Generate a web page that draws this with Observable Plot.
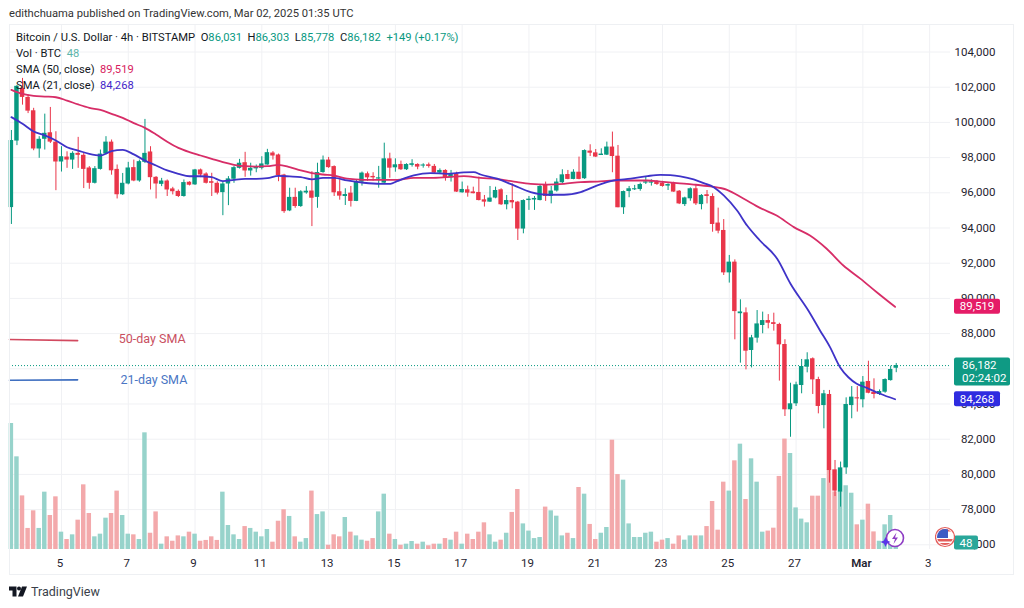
<!DOCTYPE html>
<html>
<head>
<meta charset="utf-8">
<script src="https://cdn.jsdelivr.net/npm/d3@7"></script>
<script src="https://cdn.jsdelivr.net/npm/@observablehq/plot@0.6"></script>
<style>
html,body{margin:0;padding:0;background:#fff;width:1024px;height:608px;overflow:hidden}
#wrap{position:relative;width:1024px;height:608px;font-family:Roboto,sans-serif;color:#131722}
.t{position:absolute;white-space:nowrap;font-size:11.2px;line-height:14px}
.g{color:#089981}
#frame{position:absolute;left:9px;top:24px;width:1005px;height:551px;border:1px solid #eef0f3;box-sizing:border-box;pointer-events:none}
.ic{position:absolute}
</style>
</head>
<body>
<div id="wrap">
<div id="chart"></div>
<div id="frame"></div>
<div class="t" style="left:9px;top:7px;color:#333">edithchuama published on TradingView.com, Mar 02, 2025 01:35 UTC</div>
<div class="t" style="left:16px;top:31px;">Bitcoin / U.S. Dollar · 4h · BITSTAMP &nbsp;O<span class="g">86,031</span> &nbsp;H<span class="g">86,303</span> &nbsp;L<span class="g">85,778</span> &nbsp;C<span class="g">86,182</span> &nbsp;<span class="g">+149 (+0.17%)</span></div>
<div class="t" style="left:16px;top:47px;">Vol · BTC &nbsp;<span style="color:#5db5aa">48</span></div>
<div class="t" style="left:16px;top:63px;">SMA (50, close) &nbsp;<span style="color:#d81b60">89,519</span></div>
<div class="t" style="left:16px;top:79px;">SMA (21, close) &nbsp;<span style="color:#4527c9">84,268</span></div>
<svg class="ic" style="left:9px;top:586px" width="18" height="11" viewBox="0 0 36 20"><path fill="#131722" d="M0 0h15v20H7V8H0zM20 0a4 4 0 1 1 0 8 4 4 0 0 1 0-8zM26 0h10l-8 20H18z"/></svg>
<div class="t" style="left:31px;top:585px;font-size:12.5px;color:#3a3f4a">TradingView</div>
<svg class="ic" style="left:880px;top:526px" width="28" height="24" viewBox="0 0 28 24"><circle cx="15" cy="12" r="8.5" fill="#fff" stroke="#8e3cc4" stroke-width="1.6"/><path d="M16.5 6.5l-4.5 6.5h3l-1.5 5 4.5-6.5h-3z" fill="#8e3cc4"/><path d="M5.5 11l1.6 3.4 3.4 1.6-3.4 1.6-1.6 3.4-1.6-3.4L.5 16l3.4-1.6z" fill="#5a35e8"/></svg>
<svg class="ic" style="left:935px;top:526px" width="20" height="22" viewBox="0 0 20 22"><defs><clipPath id="c"><circle cx="10" cy="11" r="8"/></clipPath></defs><circle cx="10" cy="11" r="9.5" fill="#fff" stroke="#e35d5b" stroke-width="1.2"/><g clip-path="url(#c)"><rect x="0" y="3" width="20" height="16" fill="#fff"/><rect x="0" y="13" width="20" height="2.5" fill="#e35d5b"/><rect x="0" y="17" width="20" height="2.5" fill="#e35d5b"/><rect x="0" y="3" width="20" height="2.5" fill="#e35d5b"/><rect x="2" y="3" width="11" height="9" fill="#3d5bc4"/></g></svg>
</div>
<script>
const opens=[95160,98940,101930,101420,100660,98490,99040,99410,98880,97750,98030,97860,98240,98130,97410,96540,97330,98200,98880,97330,95890,96500,97430,96670,97730,98320,96880,96480,96670,96220,96080,95790,96600,96450,97300,97070,96630,96540,96010,96500,96770,97390,97710,97240,97390,97390,97580,98260,98150,97010,94970,95740,95220,96020,96100,95740,97150,97860,97490,96060,
95790,95980,95510,96610,97080,96930,96780,96550,97930,97420,97610,97310,97590,97610,97550,97560,97500,97120,97270,96850,97080,96000,96170,96020,96020,95600,95470,95700,96170,95320,95560,95470,93940,95560,95620,95560,96420,95790,96100,96570,97040,96760,97170,96800,98370,98270,98150,98140,98600,98080,95150,96070,96170,96190,96550,96580,96620,96550,96380,96550,96090,95330,95660,96230,95330,95860,95790,94280,93860,91450,92060,89160,89180,87040,87740,88460,88740,88590,88520,87380,83670,84010,85050,86090,86570,85390,83910,84540,80260,78990,80370,83910,84350,84240,85280,84670,84540,84670,85330,86031];
const highs=[99540,102100,102500,101550,100800,99190,100470,100850,99470,98620,98330,98330,99150,98280,97490,97490,98430,99190,99000,97580,97100,97730,97860,97860,100170,98620,96920,96820,96730,96310,96160,96730,96630,97330,97350,97140,97110,96630,96630,96920,97490,97900,98300,97680,97580,98050,98470,98340,98200,97050,96260,96260,96120,96350,97200,97680,98090,98010,97530,96730,
96230,96360,96700,97180,97180,97140,97500,98820,98250,97930,97800,97650,97880,97650,97650,97690,97610,97360,97310,97270,97170,96610,96380,96320,96890,95850,96360,96320,96230,95850,96510,95510,95600,95790,95790,96420,96610,96360,96800,97310,97270,97310,98030,98440,98730,98460,98500,98880,99450,98690,96100,96360,96420,96550,96890,96740,96700,96650,96510,96600,96130,95750,96280,96410,95900,96130,95940,95130,94480,92440,92190,89920,89460,87900,89310,89220,89080,89160,88590,87650,85180,85240,86530,86910,86620,85520,84770,84770,80790,80700,84350,84990,84990,85560,86430,85430,84800,85430,86150,86303];
const lows=[94200,98680,100980,100500,98390,97960,98430,98800,96120,97180,97390,97330,97390,96240,96200,96500,97290,98150,97000,95650,95850,96450,96630,96600,97660,96160,95650,96350,95790,95880,95730,95750,96390,96420,96860,96500,95790,95880,94700,95270,96540,97350,96880,96950,97140,97300,97570,97860,96630,94830,94930,95120,95170,95920,94080,95120,97110,97390,95790,95580,
95280,95190,95500,96380,96650,96660,96260,96510,96830,97170,97270,97270,97460,97310,97400,97400,97080,97080,96660,96610,96020,95980,95750,95940,95540,95190,95450,95660,95280,95030,95090,93290,93670,95000,95000,95540,95510,95370,96040,96510,96740,96740,96740,96760,98060,98000,98130,98120,97140,95150,94770,95720,96130,96090,96470,96380,96420,96320,96130,96030,95330,95220,95520,95280,95030,95370,93760,93670,91300,90870,87645,86320,85940,86050,87460,87990,88270,88140,85300,83290,82110,83860,84580,85770,84540,83440,82590,79500,78740,78140,80000,83160,83540,83780,84580,84290,84480,84610,85300,85778];
const closes=[98970,102050,101420,100640,98490,99040,99380,98880,97750,98050,97860,98240,98130,97330,96540,97370,98200,98880,97250,95890,96540,97410,96670,97770,98240,96860,96500,96670,96160,96060,95790,96580,96430,97300,97010,96540,96540,95980,96500,96790,97430,97680,97240,97390,97430,97640,98280,98090,96980,94930,95740,95220,96060,96060,95690,97150,97860,97430,96000,95810,
95900,95510,96610,97120,96850,96850,96850,97930,97400,97590,97310,97610,97620,97460,97550,97530,97120,97270,96850,97040,96040,96190,95980,95980,95560,95470,95700,96130,95320,95560,95430,93940,95560,95640,95650,96360,95790,96100,96610,97020,96760,97170,96760,98400,98250,98030,98170,98600,98060,95150,96070,96230,96230,96470,96620,96590,96470,96360,96470,96040,95370,95710,96230,95370,95850,95820,94200,93820,91450,92060,89250,89200,87000,87760,88550,88740,88590,88550,87360,83670,84010,85090,86130,86510,85370,83860,84580,80220,79050,80370,83970,84390,84290,85240,84610,84540,84710,85390,85960,86182];
const volumes=[945,695,402,158,290,158,430,255,395,130,75,110,220,485,270,95,115,235,270,438,255,115,110,75,875,122,282,40,95,62,102,95,130,115,62,68,95,68,430,180,110,75,172,158,130,95,150,55,212,298,248,95,55,82,438,262,282,32,110,95,240,130,102,70,62,82,282,415,115,75,32,40,60,40,55,28,40,40,82,70,130,40,115,75,130,200,110,55,70,122,278,450,192,138,82,90,318,290,250,102,122,82,465,415,188,75,122,165,820,562,520,192,90,90,122,130,55,70,82,40,102,70,102,102,102,172,360,145,505,438,665,790,375,680,505,130,138,160,548,828,720,312,228,200,400,400,532,595,432,432,478,422,185,220,340,132,62,185,255,48];

const sma50Idx=[0,2,4,6,8,10,12,14,16,18,20,22,24,26,28,30,32,34,36,38,40,42,44,46,48,50,52,54,56,58,60.3,63.3,66.3,69.3,72.3,75.3,78.3,81.3,84.3,87.3,90.3,93.3,96.3,99.3,102.3,105.3,108.3,111.3,114.3,116.6,119.6,122.6,125.6,128.6,131.6,134.6,137.5,140.6,143.5,146.5,149.5,152.6,155.5,158.8];
const sma50=[101850,101620,101510,101470,101430,101240,101020,100830,100710,100490,100260,99960,99690,99310,98900,98550,98310,98120,97930,97740,97590,97510,97490,97510,97590,97460,97270,97120,97040,96980,96800,96740,96740,96740,96850,96850,96890,96950,96850,96780,96640,96510,96470,96510,96610,96640,96700,96700,96700,96640,96550,96470,96360,96170,95660,95130,94710,94050,93570,92820,91870,91110,90350,89519];
const sma21Idx=[0,2,4,6,8,10,12,14,16,18,20,22,24,26,28,30,32,34,36,38,40,42,44,46,48,50,52,54,56,58,60.3,63.3,66.3,68.1,69.3,72.3,75.3,78.3,81.3,83.1,84.3,87.3,90.3,93.3,96.3,99.3,102.3,105.3,108.3,111.3,114.3,116.6,118.4,120.2,122.6,124.4,126.2,128,130.4,132.2,134.5,137.6,140,143.2,145.3,147.1,148.9,150.4,151.9,153.7,156.1,158.8];
const sma21=[100300,99920,99480,99260,98970,98590,98400,98210,98120,98370,98440,98180,97830,97550,97270,97080,96940,96940,96890,96660,96740,96790,96790,96830,96960,96930,96890,96760,96850,96850,96700,96570,96510,96510,96660,96990,97120,97080,97160,97170,97040,96800,96420,96040,95890,95890,96040,96420,96700,96800,96950,97020,97000,96930,96760,96550,96320,95850,94990,94140,93290,92250,90830,89310,88180,87230,86090,85520,85150,84920,84580,84268];

const priceTicks=[76000,78000,80000,82000,84000,86000,88000,90000,92000,94000,96000,98000,100000,102000,104000];
const dayIdx=[9,21,33,45,57,69,81,93,105,117,129,141,165];
const dayLabels=["5","7","9","11","13","15","17","19","21","23","25","27","3"];
const monthIdx=[153];
const monthLabels=["Mar"];
const lastPrice=86182, sma50Last=89519, sma21Last=84268;
const legend50=[{i:-0.34,p:87664},{i:11.9,p:87600}];
const legend21=[{i:-0.34,p:85350},{i:11.9,p:85370}];

const UP="#089981",DOWN="#e9364a",UPV="#97d3cb",DOWNV="#f3a9ab";
const candles=opens.map((o,i)=>({i,o,h:highs[i],l:lows[i],c:closes[i],v:volumes[i],up:closes[i]>=o}));
const base=75732, perBTC=56.82/7.5; // the volume pane shares the plot: BTC mapped into the price scale from its floor

const badge=(price,label,fill)=>(idx,s)=>{
  const y=s.y(price);
  const g=d3.create("svg:g").attr("font-family","Roboto,sans-serif");
  g.append("rect").attr("x",954).attr("y",y-7.5).attr("width",46).attr("height",15).attr("rx",2).attr("fill",fill);
  g.append("text").attr("x",977).attr("y",y+4).attr("text-anchor","middle").attr("fill","#fff").attr("font-size",11.5).text(label);
  return g.node();
};
const lastBadge=(idx,s)=>{
  const y=s.y(lastPrice);
  const g=d3.create("svg:g").attr("font-family","Roboto,sans-serif").attr("text-anchor","start");
  g.append("rect").attr("x",954).attr("y",y-7.5).attr("width",56).attr("height",28).attr("rx",2).attr("fill","#0f9a84");
  g.append("text").attr("x",962).attr("y",y+4).attr("fill","#fff").attr("font-size",11.5).text("86,182");
  g.append("text").attr("x",962).attr("y",y+17).attr("fill","#fff").attr("font-size",11.5).text("02:24:02");
  return g.node();
};
const volBadge=(idx,s)=>{
  const y=s.y(base+48*perBTC);
  const g=d3.create("svg:g").attr("font-family","Roboto,sans-serif");
  g.append("rect").attr("x",954).attr("y",y-7).attr("width",24).attr("height",14).attr("rx",2).attr("fill","#2aa79a");
  g.append("text").attr("x",966).attr("y",y+4).attr("text-anchor","middle").attr("fill","#fff").attr("font-size",11.5).text("48");
  return g.node();
};

const chart=Plot.plot({
  width:1024,height:608,
  marginLeft:9,marginRight:74,marginTop:25,marginBottom:59,
  style:{fontFamily:"Roboto,sans-serif",background:"transparent"},
  x:{domain:[-0.34,168.75],axis:null},
  y:{domain:[75732,105506],axis:null},
  marks:[
    Plot.ruleX([...dayIdx,...monthIdx],{stroke:"#f0f1f4",strokeWidth:1}),
    Plot.ruleY(priceTicks,{stroke:"#f0f1f4",strokeWidth:1}),
    Plot.rect(candles,{x1:d=>d.i-0.4,x2:d=>d.i+0.4,y1:base,y2:d=>base+d.v*perBTC,fill:d=>d.up?UPV:DOWNV,inset:0}),
    Plot.ruleY([lastPrice],{stroke:UP,strokeDasharray:"1,2",strokeWidth:1}),
    Plot.ruleX(candles,{x:"i",y1:"l",y2:"h",stroke:d=>d.up?UP:DOWN,strokeWidth:1}),
    Plot.rect(candles,{x1:d=>d.i-0.4,x2:d=>d.i+0.4,y1:d=>Math.min(d.o,d.c)-(Math.abs(d.o-d.c)<50?30:0),y2:d=>Math.max(d.o,d.c)+(Math.abs(d.o-d.c)<50?30:0),fill:d=>d.up?UP:DOWN}),
    Plot.line(sma50Idx.map((i,k)=>({i,p:sma50[k]})),{x:"i",y:"p",stroke:"#d72d67",strokeWidth:1.8,curve:"monotone-x"}),
    Plot.line(sma21Idx.map((i,k)=>({i,p:sma21[k]})),{x:"i",y:"p",stroke:"#3f33c8",strokeWidth:1.8,curve:"monotone-x"}),
    Plot.line(legend50,{x:"i",y:"p",stroke:"#d2495f",strokeWidth:1.6}),
    Plot.line(legend21,{x:"i",y:"p",stroke:"#3f6fc0",strokeWidth:1.6}),
    Plot.text(["50-day SMA"],{x:25.3,y:87680,text:d=>d,fill:"#c9505f",fontSize:12.5}),
    Plot.text(["21-day SMA"],{x:25.6,y:85390,text:d=>d,fill:"#4a76c4",fontSize:12.5}),
    Plot.axisY(priceTicks,{anchor:"right",tickSize:0,tickPadding:0,textAnchor:"end",dx:45,label:null,tickFormat:d3.format(","),fontSize:11.5,fill:"#1f2430",fontVariant:"normal"}),
    Plot.axisX(dayIdx,{anchor:"bottom",tickSize:0,tickPadding:9,dx:-1.5,label:null,tickFormat:(d,k)=>dayLabels[dayIdx.indexOf(d)],fontSize:11.5,fill:"#1f2430"}),
    Plot.axisX(monthIdx,{anchor:"bottom",tickSize:0,tickPadding:9,dx:-1.5,label:null,tickFormat:d=>monthLabels[monthIdx.indexOf(d)],fontSize:11.5,fontWeight:600,fill:"#1f2430"}),
    badge(sma50Last,"89,519","#e51c67"),
    lastBadge,
    badge(sma21Last,"84,268","#2f2ce0"),
    volBadge
  ]
});
document.getElementById("chart").appendChild(chart);
</script>
</body>
</html>
